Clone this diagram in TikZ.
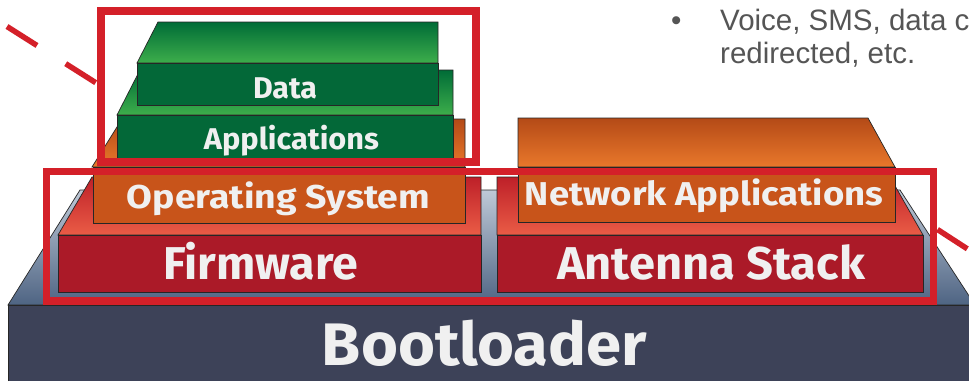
\documentclass[tikz,border=0pt]{standalone}
\usepackage{fontspec}
\setmainfont{Fira Sans}
\newfontfamily\bodyfont{Liberation Sans}
\usepackage{graphicx}
\newcommand\fitw[2]{\resizebox{#1}{\height}{#2}}
\definecolor{bootfront}{HTML}{3D4258}
\definecolor{boottopA}{HTML}{BFC9D7}
\definecolor{boottopB}{HTML}{4E6483}
\definecolor{redfront}{HTML}{AB1A28}
\definecolor{redtopA}{HTML}{BE2029}
\definecolor{redtopB}{HTML}{EA5C46}
\definecolor{orfront}{HTML}{C8541A}
\definecolor{ortopA}{HTML}{B44A17}
\definecolor{ortopB}{HTML}{E9782B}
\definecolor{grfront}{HTML}{036838}
\definecolor{grtopA}{HTML}{006C37}
\definecolor{grtopB}{HTML}{3DAE4B}
\definecolor{boxred}{HTML}{D42029}
\definecolor{labeltext}{HTML}{F0F0F0}
\definecolor{bodygray}{HTML}{555555}
\begin{document}
\begin{tikzpicture}[x=1pt,y=-1pt,
  face/.style={rectangle, draw=black!85, line width=0.7pt, inner sep=0pt, outer sep=0pt},
  topface/.style={draw=black!85, line width=0.7pt},
  lbl/.style={text=labeltext, inner sep=0pt, anchor=base},
  redbox/.style={draw=boxred, line width=8pt},
  reddash/.style={draw=boxred, line width=5.5pt, dash pattern=on 35.5pt off 34pt},
  bodytxt/.style={text=bodygray, inner sep=0pt, anchor=base west, font=\bodyfont\fontsize{29.5}{34}\selectfont}]
\useasboundingbox (0,0) rectangle (969,381);
\clip (0,0) rectangle (969,381);
\fill[white] (0,0) rectangle (969,381);

% Bootloader
\draw[topface, top color=boottopA, bottom color=boottopB] (8,305) -- (975,305) -- (900,190) -- (80,190) -- cycle;
\node[rectangle, fill=bootfront, inner sep=0pt, outer sep=0pt, minimum width=961pt, minimum height=76pt] (bootf) at (488.5,343) {};
\draw[black!85, line width=0.7pt] (bootf.south west) -- (bootf.north west) -- (bootf.north east);
\node[lbl, font=\bfseries\fontsize{60}{60}\selectfont] (tboot) at (484.5,365) {\fitw{325pt}{Bootloader}};

% Firmware
\draw[topface, top color=redtopA, bottom color=redtopB] (58,235) -- (481,235) -- (481,177) -- (92,177) -- cycle;
\node[face, fill=redfront, minimum width=423pt, minimum height=57pt] (fwf) at (269.5,263.5) {};
\node[lbl, font=\bfseries\fontsize{46}{46}\selectfont] (tfw) at (260.5,279) {\fitw{195pt}{Firmware}};

% Antenna Stack
\draw[topface, top color=redtopA, bottom color=redtopB] (497,235) -- (923,235) -- (890,177) -- (497,177) -- cycle;
\node[face, fill=redfront, minimum width=426pt, minimum height=57pt] (asf) at (710,263.5) {};
\node[lbl, font=\bfseries\fontsize{46}{46}\selectfont] (tas) at (711,279) {\fitw{308pt}{Antenna Stack}};

% Operating System
\draw[topface, top color=ortopA, bottom color=ortopB] (92,167) -- (465,167) -- (465,119) -- (122,119) -- cycle;
\node[face, fill=orfront, minimum width=372pt, minimum height=56pt] (osf) at (279,195) {};
\node[lbl, font=\bfseries\fontsize{33}{33}\selectfont] (tos) at (278.5,208) {\fitw{303pt}{Operating System}};

% Network Applications
\draw[topface, top color=ortopA, bottom color=ortopB] (518,167) -- (895,167) -- (868,118) -- (518,118) -- cycle;
\node[face, fill=orfront, minimum width=377pt, minimum height=55pt] (naf) at (706.5,194.5) {};
\node[lbl, font=\bfseries\fontsize{33}{33}\selectfont] (tna) at (704,205) {\fitw{358pt}{Network Applications}};

% Applications
\draw[topface, top color=grtopA, bottom color=grtopB] (117,115) -- (453,115) -- (453,70) -- (140,70) -- cycle;
\node[face, fill=grfront, minimum width=336pt, minimum height=47pt] (apf) at (285,138.5) {};
\node[lbl, font=\bfseries\fontsize{30}{30}\selectfont] (tap) at (291.5,149) {\fitw{175pt}{Applications}};

% Data
\draw[topface, top color=grtopA, bottom color=grtopB] (137,63) -- (438,63) -- (438,22) -- (158,22) -- cycle;
\node[face, fill=grfront, minimum width=301pt, minimum height=42pt] (daf) at (287.5,84) {};
\node[lbl, font=\bfseries\fontsize{30}{30}\selectfont] (tda) at (285,98) {\fitw{64pt}{Data}};

% red highlight boxes
\draw[redbox] (101,11) rectangle (476,162);
\draw[redbox, line width=7.5pt] (46.5,171.5) rectangle (933.5,301);
\coordinate (dl1) at (7,26.5);
\coordinate (dl2) at (97,83.5);
\coordinate (dr1) at (937.5,229.5);
\coordinate (dr2) at (1003,272);
\draw[reddash] (dl1) -- (dl2);
\draw[reddash] (dr1) -- (dr2);

% body text
\node[bodytxt] (bul) at (671,30) {•};
\node[bodytxt] (l1) at (720,30) {Voice, SMS, data c};
\node[bodytxt] (l2) at (720,63) {redirected, etc.};
\end{tikzpicture}
\end{document}
